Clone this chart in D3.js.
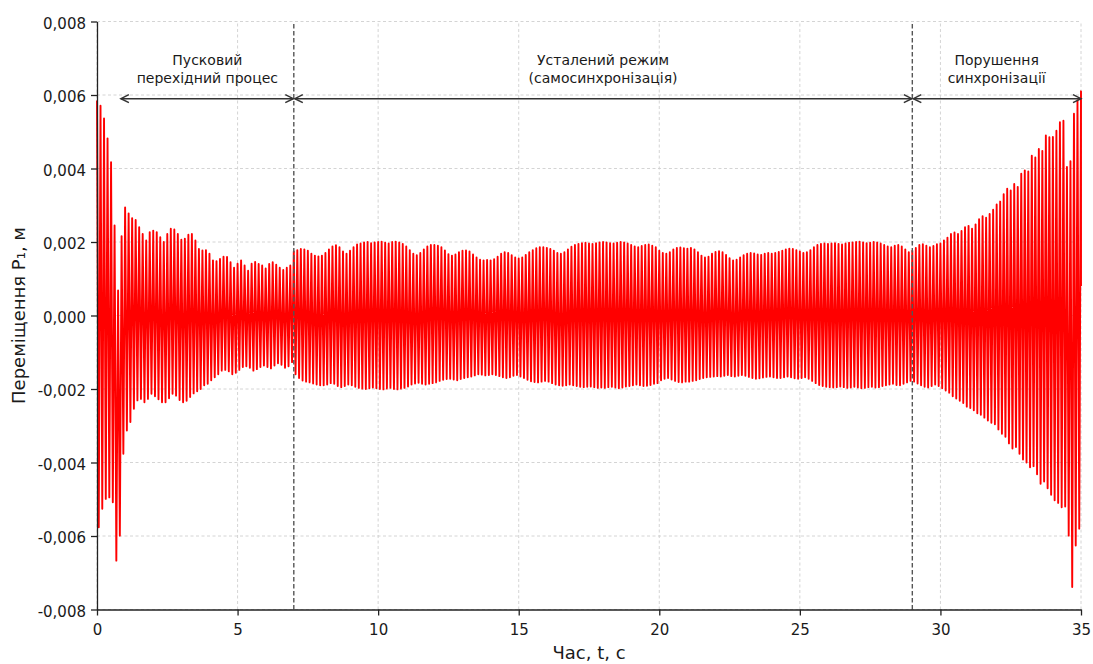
<!DOCTYPE html>
<html>
<head>
<meta charset="utf-8">
<script src="https://cdn.jsdelivr.net/npm/d3@7"></script>
<style>
  body { margin: 0; background: #fff; }
  svg { display: block; font-family: "DejaVu Sans", sans-serif; }
</style>
</head>
<body>
<svg></svg>
<script>
// peak values of each oscillation cycle, in units of 1e-5 m
const cyclePeriod = 0.125;
const topPeaks = [
  585, 571, 536, 482, 417, 245, 68, 216,
  294, 278, 265, 260, 240, 222, 204, 227,
  231, 227, 213, 200, 222, 236, 234, 222,
  206, 209, 220, 222, 204, 181, 177, 178,
  168, 150, 148, 154, 160, 159, 145, 130,
  141, 150, 136, 122, 141, 146, 140, 136,
  128, 140, 145, 138, 130, 124, 130, 136,
  174, 178, 181, 180, 176, 168, 163, 161,
  163, 170, 180, 188, 191, 186, 174, 168,
  176, 186, 193, 196, 199, 200, 197, 199,
  200, 201, 198, 196, 200, 201, 199, 195,
  188, 178, 168, 164, 170, 180, 188, 192,
  192, 190, 186, 177, 167, 163, 166, 172,
  176, 177, 174, 166, 158, 152, 150, 151,
  150, 153, 160, 168, 172, 170, 164, 158,
  155, 158, 165, 172, 178, 183, 186, 186,
  184, 181, 176, 170, 168, 172, 180, 187,
  192, 195, 197, 198, 196, 195, 197, 199,
  200, 199, 197, 196, 198, 200, 199, 196,
  192, 188, 186, 189, 192, 193, 190, 186,
  176, 170, 168, 172, 180, 184, 185, 183,
  182, 184, 180, 172, 163, 158, 160, 168,
  173, 175, 172, 165, 156, 150, 152, 158,
  164, 168, 170, 169, 166, 165, 168, 170,
  168, 170, 173, 176, 180, 182, 181, 178,
  174, 170, 172, 178, 186, 192, 195, 196,
  195, 196, 197, 195, 193, 196, 198, 199,
  200, 201, 199, 197, 198, 200, 199, 196,
  192, 188, 186, 190, 192, 188, 180, 172,
  176, 184, 192, 194, 190, 186, 189, 194,
  196, 204, 212, 222, 226, 222, 230, 240,
  244, 236, 248, 262, 270, 266, 276, 288,
  302, 310, 330, 345, 340, 358, 350, 386,
  395, 392, 435, 430, 453, 448, 490, 485,
  486, 503, 526, 530, 404, 420, 549, 585,
  610
];
const bottomPeaks = [
  -576, -526, -499, -495, -508, -667, -599, -376,
  -313, -290, -254, -231, -227, -236, -227, -213,
  -220, -228, -236, -236, -225, -213, -218, -230,
  -236, -232, -222, -212, -206, -200, -190, -186,
  -176, -168, -160, -150, -148, -152, -160, -156,
  -148, -140, -138, -142, -150, -146, -140, -136,
  -140, -144, -136, -130, -134, -142, -138, -127,
  -160, -170, -177, -180, -182, -185, -188, -190,
  -190, -188, -184, -186, -192, -195, -192, -188,
  -190, -194, -197, -199, -200, -198, -196, -198,
  -200, -201, -199, -197, -200, -201, -199, -197,
  -193, -188, -185, -183, -186, -188, -186, -184,
  -182, -178, -175, -173, -172, -174, -176, -173,
  -170, -168, -166, -163, -160, -161, -163, -162,
  -160, -162, -165, -168, -170, -168, -164, -162,
  -166, -170, -175, -179, -181, -182, -180, -178,
  -180, -184, -188, -190, -191, -190, -188, -190,
  -192, -194, -195, -194, -193, -195, -197, -196,
  -197, -195, -194, -196, -198, -196, -193, -192,
  -190, -188, -190, -192, -191, -189, -186, -184,
  -176, -172, -170, -174, -178, -181, -182, -180,
  -180, -178, -176, -173, -170, -168, -167, -166,
  -165, -166, -164, -162, -165, -166, -164, -162,
  -164, -167, -170, -172, -171, -169, -167, -166,
  -168, -170, -170, -168, -166, -168, -171, -172,
  -170, -168, -172, -178, -184, -189, -192, -194,
  -195, -196, -195, -193, -195, -197, -196, -194,
  -196, -198, -197, -195, -194, -196, -195, -192,
  -190, -188, -186, -189, -190, -186, -182, -178,
  -180, -185, -190, -194, -196, -192, -188, -192,
  -198, -204, -210, -220, -226, -232, -238, -248,
  -252, -258, -266, -270, -278, -286, -292, -296,
  -310, -322, -330, -348, -362, -358, -376, -392,
  -400, -413, -410, -432, -458, -452, -470, -488,
  -503, -510, -522, -520, -599, -739, -626, -580
];
const tailValue = 80;

const xTicks = [0, 5, 10, 15, 20, 25, 30, 35];
const yTicks = [-0.008, -0.006, -0.004, -0.002, 0, 0.002, 0.004, 0.006, 0.008];
const boundaries = [7, 29];
const regionStart = [0.85, 7, 29];
const regionEnd = [7, 29, 35];
const regionLabels = [
  ["Пусковий", "перехідний процес"],
  ["Усталений режим", "(самосинхронізація)"],
  ["Порушення", "синхронізації"]
];
const arrowLevel = 0.0059;

const W = 1093, H = 664;
const margin = {top: 21.5, right: 12, bottom: 54.5, left: 97};

const svg = d3.select("svg")
  .attr("width", W)
  .attr("height", H);

const x = d3.scaleLinear().domain([0, 35]).range([margin.left, W - margin.right]);
const y = d3.scaleLinear().domain([-0.008, 0.008]).range([H - margin.bottom, margin.top]);

// grid
svg.append("g")
  .selectAll("line")
  .data(xTicks)
  .enter()
  .append("line")
  .attr("x1", d => x(d)).attr("x2", d => x(d))
  .attr("y1", y(-0.008)).attr("y2", y(0.008))
  .attr("stroke", "#cfcfcf")
  .attr("stroke-width", 0.9)
  .attr("stroke-dasharray", "3,2.5");
svg.append("g")
  .selectAll("line")
  .data(yTicks)
  .enter()
  .append("line")
  .attr("x1", x(0)).attr("x2", x(35))
  .attr("y1", d => y(d)).attr("y2", d => y(d))
  .attr("stroke", "#cfcfcf")
  .attr("stroke-width", 0.9)
  .attr("stroke-dasharray", "3,2.5");

// signal: peak -> trough -> peak ...
let pts = [];
topPeaks.forEach((v, i) => {
  pts.push([i * cyclePeriod, v * 1e-5]);
  if (i < bottomPeaks.length) pts.push([(i + 0.5) * cyclePeriod, bottomPeaks[i] * 1e-5]);
});
pts.push([35, tailValue * 1e-5]);

svg.append("clipPath").attr("id", "clip")
  .append("rect")
  .attr("x", x(0) - 1).attr("y", 0)
  .attr("width", x(35) - x(0) + 2).attr("height", H - margin.bottom);

const line = d3.line().x(d => x(d[0])).y(d => y(d[1]));
svg.append("path")
  .datum(pts)
  .attr("clip-path", "url(#clip)")
  .attr("d", line)
  .attr("fill", "none")
  .attr("stroke", "#ff0000")
  .attr("stroke-width", 1.9)
  .attr("stroke-linejoin", "round");

// phase boundaries
svg.append("g")
  .selectAll("line")
  .data(boundaries)
  .enter()
  .append("line")
  .attr("x1", d => x(d)).attr("x2", d => x(d))
  .attr("y1", y(-0.008)).attr("y2", y(0.008))
  .attr("stroke", "#555")
  .attr("stroke-width", 1.4)
  .attr("stroke-dasharray", "4.5,2.5");

// double-headed arrows with labels
const ay = y(arrowLevel);
const arrows = svg.append("g");
regionStart.forEach((s, i) => {
  const x1 = x(s) + (i > 0 ? 1 : 0), x2 = x(regionEnd[i]) - (i < 2 ? 0.5 : 0);
  arrows.append("line")
    .attr("x1", x1).attr("x2", x2)
    .attr("y1", ay).attr("y2", ay)
    .attr("stroke", "#333").attr("stroke-width", 1.5);
  arrows.append("path")
    .attr("d", `M${x1 + 8},${ay - 4}L${x1},${ay}L${x1 + 8},${ay + 4}`)
    .attr("fill", "none").attr("stroke", "#333").attr("stroke-width", 1.5);
  arrows.append("path")
    .attr("d", `M${x2 - 8},${ay - 4}L${x2},${ay}L${x2 - 8},${ay + 4}`)
    .attr("fill", "none").attr("stroke", "#333").attr("stroke-width", 1.5);
  const t = arrows.append("text")
    .attr("x", (x(s) + x(regionEnd[i])) / 2)
    .attr("text-anchor", "middle")
    .attr("font-size", 14)
    .attr("fill", "#1a1a1a");
  regionLabels[i].forEach((l, j) => {
    t.append("tspan")
      .attr("x", (x(s) + x(regionEnd[i])) / 2)
      .attr("y", 65 + j * 18)
      .text(l);
  });
});

// axes
const fmt = d => d3.format(".3f")(d).replace(".", ",").replace("−", "-");
const yAxis = svg.append("g")
  .attr("transform", `translate(${margin.left},0)`)
  .call(d3.axisLeft(y).tickValues(yTicks).tickFormat(fmt).tickSize(6).tickSizeOuter(0).tickPadding(5));
const xAxis = svg.append("g")
  .attr("transform", `translate(0,${H - margin.bottom})`)
  .call(d3.axisBottom(x).tickValues(xTicks).tickFormat(d3.format("d")).tickSize(6).tickSizeOuter(0).tickPadding(9));
[yAxis, xAxis].forEach(a => {
  a.selectAll("path, line").attr("stroke", "#222").attr("stroke-width", 1.3);
  a.selectAll("text").attr("font-size", 15).attr("fill", "#1a1a1a").attr("font-family", "DejaVu Sans");
});
yAxis.selectAll("text").attr("dy", "0.45em");

svg.append("text")
  .attr("x", (x(0) + x(35)) / 2)
  .attr("y", 659)
  .attr("text-anchor", "middle")
  .attr("font-size", 18)
  .attr("fill", "#1a1a1a")
  .text("Час, t, с");

svg.append("text")
  .attr("transform", `translate(25,${y(0)}) rotate(-90)`)
  .attr("text-anchor", "middle")
  .attr("font-size", 18)
  .attr("fill", "#1a1a1a")
  .text("Переміщення P₁, м");
</script>
</body>
</html>
